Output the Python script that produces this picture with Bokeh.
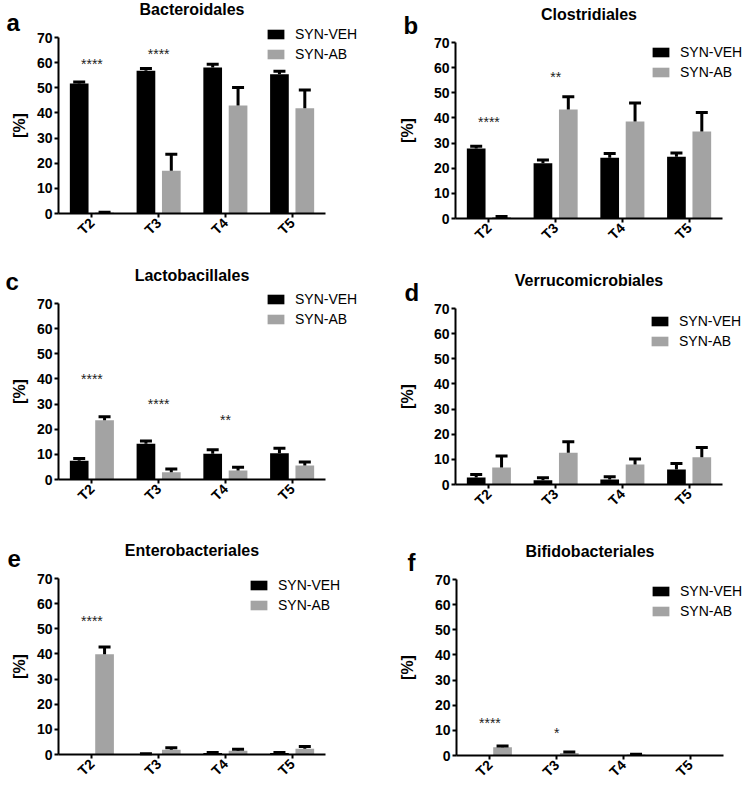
import math
from bokeh.plotting import figure
from bokeh.layouts import gridplot
from bokeh.models import (ColumnDataSource, Range1d, Legend, LegendItem, Label, FixedTicker)
from bokeh.transform import dodge
from bokeh.core.properties import value
from bokeh.embed import file_html
from bokeh.resources import INLINE

# ---------------- data ----------------
times = ["T2", "T3", "T4", "T5"]
series_names = ["SYN-VEH", "SYN-AB"]
y_ticks = [0, 10, 20, 30, 40, 50, 60, 70]

titles = ["Bacteroidales", "Clostridiales", "Lactobacillales",
          "Verrucomicrobiales", "Enterobacteriales", "Bifidobacteriales"]
letters = ["a", "b", "c", "d", "e", "f"]

# means
bact_veh = [51.7, 56.8, 58.1, 55.4]
bact_ab = [0.4, 17.0, 43.0, 41.9]
clos_veh = [27.8, 22.0, 24.2, 24.6]
clos_ab = [0.6, 43.4, 38.6, 34.6]
lact_veh = [7.5, 14.2, 10.2, 10.4]
lact_ab = [23.6, 2.9, 3.6, 5.6]
verr_veh = [2.8, 1.7, 2.0, 6.0]
verr_ab = [6.8, 12.6, 8.0, 10.8]
ente_veh = [0.0, 0.2, 0.6, 0.6]
ente_ab = [39.9, 1.9, 1.5, 2.3]
bifi_veh = [0.0, 0.0, 0.0, 0.0]
bifi_ab = [3.3, 1.0, 0.4, 0.0]

# SEM (upper error)
bact_veh_err = [0.6, 0.9, 1.3, 1.2]
bact_ab_err = [0.1, 6.6, 7.1, 7.2]
clos_veh_err = [0.9, 1.3, 1.7, 1.5]
clos_ab_err = [0.2, 5.0, 7.3, 7.6]
lact_veh_err = [0.9, 1.1, 1.6, 2.0]
lact_ab_err = [1.4, 1.3, 1.3, 1.4]
verr_veh_err = [1.2, 1.0, 1.1, 2.4]
verr_ab_err = [4.5, 4.4, 2.1, 3.9]
ente_veh_err = [0.0, 0.1, 0.2, 0.2]
ente_ab_err = [2.9, 0.8, 0.6, 0.9]
bifi_veh_err = [0.0, 0.0, 0.0, 0.0]
bifi_ab_err = [0.5, 0.4, 0.1, 0.0]

# significance marks: (time, label, height)
bact_sig = (["T2", "T3"], ["****", "****"], [60.3, 64.3])
clos_sig = (["T2", "T3"], ["****", "**"], [39.0, 57.2])
lact_sig = (["T2", "T3", "T4"], ["****", "****", "**"], [40.6, 30.7, 24.5])
verr_sig = ([], [], [])
ente_sig = (["T2"], ["****"], [54.0])
bifi_sig = (["T2", "T3"], ["****", "*"], [13.9, 9.9])

panels_veh = [bact_veh, clos_veh, lact_veh, verr_veh, ente_veh, bifi_veh]
panels_ab = [bact_ab, clos_ab, lact_ab, verr_ab, ente_ab, bifi_ab]
panels_veh_err = [bact_veh_err, clos_veh_err, lact_veh_err, verr_veh_err, ente_veh_err, bifi_veh_err]
panels_ab_err = [bact_ab_err, clos_ab_err, lact_ab_err, verr_ab_err, ente_ab_err, bifi_ab_err]
panels_sig = [bact_sig, clos_sig, lact_sig, verr_sig, ente_sig, bifi_sig]

# ---------------- style / layout ----------------
BLACK = "#000000"
GRAY = "#a3a3a3"
FONT = "Liberation Sans"
PXX = 66.75          # pixels per category
PXY = 176.0 / 70.0   # pixels per percent
BAR_W = 0.28
OFF = 0.19

cols = [(0, 372), (372, 372)]
rows = [(0, 260), (260, 260), (520, 264)]
# page coordinates of axis origin, legend (left, bottom), letter (dx, up), ylabel dx
spec = [
    dict(o=(58, 213), leg=(265, 62), let=(-52, 191), yl=-39),
    dict(o=(455, 218), leg=(650, 80), let=(-52, 193), yl=-48),
    dict(o=(58, 479), leg=(265, 327), let=(-53, 198), yl=-39),
    dict(o=(455, 484), leg=(649, 349), let=(-51, 192), yl=-48),
    dict(o=(58, 754), leg=(248, 613), let=(-51, 196), yl=-39),
    dict(o=(456, 755), leg=(650, 619), let=(-49, 193), yl=-49),
]
TITLE_UP = 204

figs = []
for i in range(6):
    s = spec[i]
    cx0, cw = cols[i % 2]
    cy0, ch = rows[i // 2]
    ox, oy = s["o"]
    ox_rel = ox - cx0            # origin from canvas left
    oy_rel = cy0 + ch - oy       # origin from canvas bottom
    xr = Range1d(-ox_rel / PXX, (cw - ox_rel) / PXX)
    yr = Range1d(-oy_rel / PXY, (ch - oy_rel) / PXY)
    p = figure(width=cw, height=ch, x_range=xr, y_range=yr,
               output_backend="svg", toolbar_location=None,
               min_border=0)
    p.outline_line_color = None
    p.xgrid.grid_line_color = None
    p.ygrid.grid_line_color = None
    p.background_fill_color = "white"
    p.border_fill_color = "white"

    xpos = [k + 0.5 for k in range(len(times))]
    veh = panels_veh[i]
    ab = panels_ab[i]
    src = ColumnDataSource(dict(x=xpos, veh=veh, ab=ab))
    r_veh = p.vbar(x=dodge("x", -OFF), top="veh", width=BAR_W,
                   source=src, fill_color=BLACK, line_color=None)
    r_ab = p.vbar(x=dodge("x", OFF), top="ab", width=BAR_W,
                  source=src, fill_color=GRAY, line_color=None)

    # upper error bars (only where a bar exists)
    for off, vals, errs in ((-OFF, veh, panels_veh_err[i]), (OFF, ab, panels_ab_err[i])):
        keep = [k for k in range(len(vals)) if vals[k] > 0]
        esrc = ColumnDataSource(dict(
            x=[xpos[k] for k in keep],
            base=[vals[k] for k in keep],
            top=[vals[k] + errs[k] for k in keep],
        ))
        p.segment(x0=dodge("x", off), y0="base", x1=dodge("x", off), y1="top",
                  source=esrc, line_color=BLACK, line_width=3)
        p.scatter(x=dodge("x", off), y="top", source=esrc,
                  marker="dash", size=12, line_color=BLACK, line_width=3)

    st, sl, sy = panels_sig[i]
    if st:
        ssrc = ColumnDataSource(dict(x=[xpos[times.index(t)] for t in st], lab=sl, y=sy))
        p.text(x="x", y="y", text="lab", source=ssrc, text_align="center",
               text_baseline="alphabetic", y_offset=2,
               text_font=value(FONT), text_font_size="14px", text_color="#222222")

    # axes drawn at the data origin
    for ax in (p.xaxis[0], p.yaxis[0]):
        ax.fixed_location = 0
        ax.axis_line_width = 2
        ax.axis_line_color = BLACK
        ax.major_tick_line_width = 2
        ax.major_tick_line_color = BLACK
        ax.major_tick_in = 0
        ax.major_tick_out = 4
        ax.minor_tick_line_color = None
        ax.major_label_text_font = FONT
        ax.major_label_text_font_style = "bold"
        ax.major_label_text_font_size = "14px"
        ax.major_label_text_color = BLACK
    p.yaxis.bounds = (0, 70)
    p.yaxis.ticker = FixedTicker(ticks=y_ticks)
    p.yaxis.major_label_standoff = 2
    p.xaxis.bounds = (0, len(times))
    p.xaxis.ticker = FixedTicker(ticks=xpos)
    p.xaxis.major_label_overrides = {xv: t for xv, t in zip(xpos, times)}
    p.xaxis.major_label_orientation = math.pi / 4
    p.xaxis.major_label_standoff = 3

    # y label, title, letter
    p.add_layout(Label(x=ox_rel + s["yl"], y=oy_rel + 35 * PXY, x_units="screen", y_units="screen",
                       text="[%]", angle=math.pi / 2, text_align="center", text_baseline="middle",
                       text_font=FONT, text_font_style="bold", text_font_size="16px",
                       text_color=BLACK))
    p.add_layout(Label(x=ox_rel + 2 * PXX, y=oy_rel + TITLE_UP, x_units="screen", y_units="screen",
                       text=titles[i], text_align="center", text_baseline="alphabetic",
                       text_font=FONT, text_font_style="bold", text_font_size="16px",
                       text_color=BLACK))
    p.add_layout(Label(x=ox_rel + s["let"][0], y=oy_rel + s["let"][1], x_units="screen", y_units="screen",
                       text=letters[i], text_align="left", text_baseline="alphabetic",
                       text_font=FONT, text_font_style="bold", text_font_size="24px",
                       text_color=BLACK))

    lx, lb = s["leg"]
    leg = Legend(items=[LegendItem(label=series_names[0], renderers=[r_veh]),
                        LegendItem(label=series_names[1], renderers=[r_ab])],
                 location=(lx - cx0, cy0 + ch - lb), orientation="vertical")
    leg.background_fill_alpha = 0
    leg.border_line_color = None
    leg.padding = 0
    leg.margin = 0
    leg.spacing = 4
    leg.glyph_width = 21
    leg.glyph_height = 12
    leg.label_height = 12
    leg.label_standoff = 9
    leg.label_text_font = FONT
    leg.label_text_font_size = "14px"
    leg.label_text_color = BLACK
    leg.label_text_baseline = "middle"
    p.add_layout(leg, "center")
    figs.append(p)

grid = gridplot([[figs[0], figs[1]], [figs[2], figs[3]], [figs[4], figs[5]]],
                toolbar_location=None)

open("out.html", "w").write(file_html(grid, INLINE))
